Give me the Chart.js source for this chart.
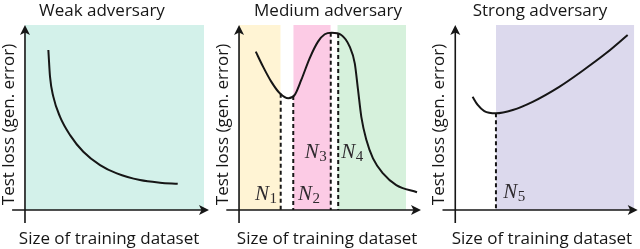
<!DOCTYPE html>
<html>
<head>
<meta charset="utf-8">
<script src="https://cdn.jsdelivr.net/npm/chart.js@4.4.0/dist/chart.umd.min.js"></script>
<style>
html, body { margin: 0; padding: 0; background: #fff; }
#wrap { position: relative; width: 640px; height: 249px; }
#wrap canvas { position: absolute; top: 0; }
</style>
</head>
<body>
<div id="wrap">
  <canvas id="weak" width="213" height="249" style="left:0px"></canvas>
  <canvas id="medium" width="213" height="249" style="left:213px"></canvas>
  <canvas id="strong" width="214" height="249" style="left:426px"></canvas>
</div>
<script>
// text
const titles = ['Weak adversary', 'Medium adversary', 'Strong adversary'];
const xLabel = 'Size of training dataset';
const yLabel = 'Test loss (gen. error)';

// curves, both axes on a 0..10 scale
const weakX = [1.27, 1.36, 1.54, 1.90, 2.45, 3.17, 4.08, 4.99, 6.25, 7.34, 8.30];
const weakY = [8.65, 7.21, 6.13, 5.05, 4.05, 3.15, 2.43, 1.98, 1.62, 1.48, 1.42];

const mediumX = [0.92, 1.32, 1.77, 2.24, 2.71, 3.06, 3.42, 3.88, 4.34, 4.71, 5.09,
                 5.62, 6.08, 6.36, 6.54, 6.72, 7.00, 7.36, 7.91, 8.64, 9.78];
const mediumY = [8.56, 7.75, 6.94, 6.31, 6.04, 6.22, 7.03, 8.20, 9.10, 9.50, 9.58,
                 9.46, 8.83, 7.93, 6.49, 5.04, 3.78, 2.79, 1.98, 1.35, 0.96];

const strongX = [0.95, 1.23, 1.59, 2.23, 3.15, 4.24, 5.70, 6.98, 8.26, 9.45];
const strongY = [6.12, 5.68, 5.35, 5.23, 5.41, 5.85, 6.66, 7.53, 8.47, 9.46];

// shaded regions [from, to] on the x scale
const weakBands = [[0, 9.73]];
const mediumBands = [[0, 2.29], [2.98, 5.04], [5.40, 9.18]];
const strongBands = [[2.23, 9.81]];

// dashed markers N_i: x and the curve height there
const mediumMarkX = [2.29, 2.98, 5.04, 5.45];
const mediumMarkY = [6.28, 6.16, 9.58, 9.52];
const mediumMarkSub = ['1', '2', '3', '4'];
const strongMarkX = [2.23];
const strongMarkY = [5.23];
const strongMarkSub = ['5'];

const ink = '#161616';
const sans = '"Open Sans", sans-serif';

function arrowHead(ctx, x, y, dx, dy) {
  const len = 10, half = 5, notch = 2.5;
  const nx = -dy, ny = dx;
  ctx.beginPath();
  ctx.moveTo(x, y);
  ctx.lineTo(x - dx * len + nx * half, y - dy * len + ny * half);
  ctx.lineTo(x - dx * (len - notch), y - dy * (len - notch));
  ctx.lineTo(x - dx * len - nx * half, y - dy * len - ny * half);
  ctx.closePath();
  ctx.fill();
}

const sketchDecor = {
  id: 'sketchDecor',
  afterDatasetsDraw(chart, args, opts) {
    const ctx = chart.ctx;
    const xs = chart.scales.x, ys = chart.scales.y;
    const px = v => xs.getPixelForValue(v);
    const py = v => ys.getPixelForValue(v);
    ctx.save();

    // axes with arrow heads
    ctx.strokeStyle = ink;
    ctx.fillStyle = ink;
    ctx.lineWidth = 1.6;
    ctx.beginPath();
    ctx.moveTo(px(0), py(ys.min));
    ctx.lineTo(px(0), py(ys.max) + 6);
    ctx.moveTo(px(xs.min), py(0));
    ctx.lineTo(px(xs.max) - 6, py(0));
    ctx.stroke();
    arrowHead(ctx, px(0), py(ys.max), 0, -1);
    arrowHead(ctx, px(xs.max), py(0), 1, 0);

    // title and axis labels
    ctx.font = '17px ' + sans;
    ctx.textAlign = 'center';
    ctx.textBaseline = 'alphabetic';
    ctx.fillText(opts.title, px(opts.titleX), 16);
    ctx.fillText(xLabel, px(opts.xLabelX), 243.5);
    ctx.save();
    ctx.translate(px(0) - 11, (chart.chartArea.top + chart.chartArea.bottom) / 2 + 0.5);
    ctx.rotate(-Math.PI / 2);
    ctx.fillText(yLabel, 0, 0);
    ctx.restore();

    // N_i labels
    ctx.fillStyle = '#2e2a2e';
    ctx.textAlign = 'left';
    (opts.marks || []).forEach(m => {
      const x = px(m.x), y = py(m.y);
      ctx.font = 'italic 21px "Liberation Serif", serif';
      ctx.fillText('N', x, y);
      const w = ctx.measureText('N').width;
      ctx.font = '15px "Liberation Serif", serif';
      ctx.fillText(m.sub, x + w + 0.5, y + 3);
    });
    ctx.restore();
  }
};

function makePanel(id, p) {
  const datasets = [{
    data: p.curveX.map((x, i) => ({ x: x, y: p.curveY[i] })),
    borderColor: ink,
    borderWidth: 2,
    pointRadius: 0,
    cubicInterpolationMode: 'monotone',
    fill: false
  }];
  (p.markX || []).forEach((x, i) => {
    datasets.push({
      data: [{ x: x, y: p.markY[i] }, { x: x, y: 0 }],
      borderColor: ink,
      borderWidth: 2,
      borderDash: [4, 3],
      pointRadius: 0,
      fill: false
    });
  });
  p.bands.forEach((b, i) => {
    datasets.push({
      data: [{ x: b[0], y: 10 }, { x: b[1], y: 10 }],
      borderWidth: 0,
      borderColor: 'rgba(0,0,0,0)',
      backgroundColor: p.colors[i],
      pointRadius: 0,
      fill: 'origin'
    });
  });

  return new Chart(document.getElementById(id), {
    type: 'line',
    data: { datasets: datasets },
    options: {
      responsive: false,
      animation: false,
      events: [],
      layout: { padding: p.padding },
      scales: {
        x: { type: 'linear', min: -0.7, max: 10, display: false },
        y: { type: 'linear', min: -0.7, max: 10, display: false }
      },
      plugins: {
        legend: { display: false },
        tooltip: { enabled: false },
        sketchDecor: {
          title: p.title,
          titleX: p.titleX,
          xLabelX: p.xLabelX,
          marks: p.marks
        }
      }
    },
    plugins: [sketchDecor]
  });
}

function marksFrom(xs, ys, subs, labelX, labelY) {
  return subs.map((s, i) => ({ x: labelX[i], y: labelY[i], sub: s }));
}

makePanel('weak', {
  title: titles[0], titleX: 4.18, xLabelX: 4.57,
  curveX: weakX, curveY: weakY,
  bands: weakBands, colors: ['#d3f1ea'],
  padding: { left: 12.1, right: 4, top: 25, bottom: 26 }
});

makePanel('medium', {
  title: titles[1], titleX: 4.89, xLabelX: 4.84,
  curveX: mediumX, curveY: mediumY,
  bands: mediumBands, colors: ['#fff4d4', '#fccbe5', '#d6f1dc'],
  markX: mediumMarkX, markY: mediumMarkY,
  marks: marksFrom(mediumMarkX, mediumMarkY, mediumMarkSub,
                   [0.88, 3.24, 3.61, 5.62], [0.54, 0.54, 2.81, 2.81]),
  padding: { left: 13.3, right: 5, top: 25, bottom: 26 }
});

makePanel('strong', {
  title: titles[2], titleX: 4.64, xLabelX: 4.75,
  curveX: strongX, curveY: strongY,
  bands: strongBands, colors: ['#dcd9ed'],
  markX: strongMarkX, markY: strongMarkY,
  marks: marksFrom(strongMarkX, strongMarkY, strongMarkSub, [2.63], [0.63]),
  padding: { left: 16.5, right: 2.3, top: 25, bottom: 26 }
});
</script>
</body>
</html>
